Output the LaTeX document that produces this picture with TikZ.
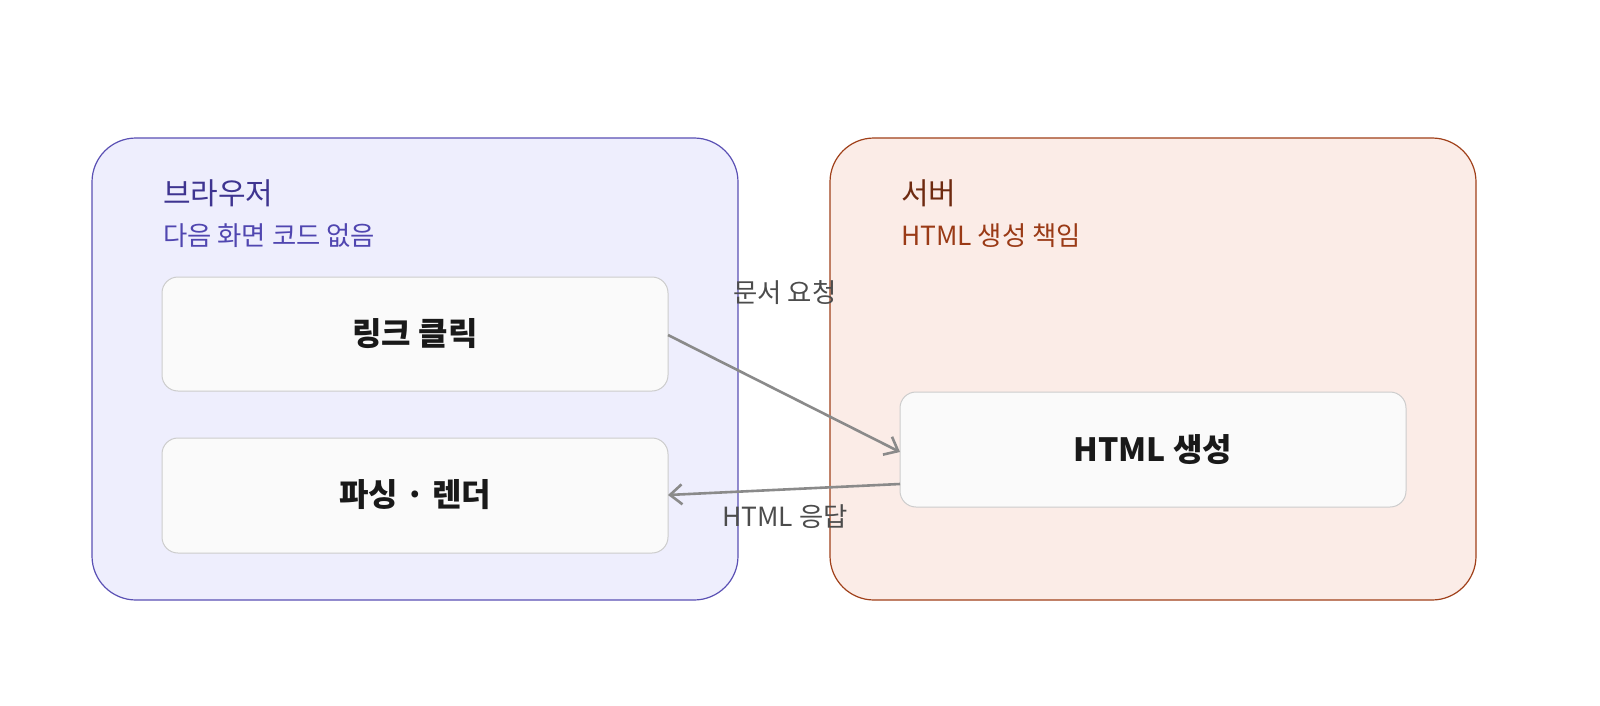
\documentclass[tikz,border=0pt]{standalone}
\usepackage{fontspec}
\setmainfont{Noto Sans CJK KR}
\usetikzlibrary{arrows.meta}
\definecolor{bfill}{HTML}{EEEEFD}
\definecolor{bline}{HTML}{5A50B4}
\definecolor{btext}{HTML}{3E3490}
\definecolor{bsub}{HTML}{5046B0}
\definecolor{sfill}{HTML}{FBECE7}
\definecolor{sline}{HTML}{A0401A}
\definecolor{stext}{HTML}{6E2A10}
\definecolor{ssub}{HTML}{9A3A16}
\definecolor{cfill}{HTML}{FAFAFA}
\definecolor{cline}{HTML}{CCCCCC}
\definecolor{arr}{HTML}{8A8A8A}
\begin{document}
\begin{tikzpicture}[x=0.5pt,y=-0.5pt,
  group/.style={rounded corners=22pt,line width=0.6pt},
  card/.style={draw=cline,fill=cfill,rounded corners=8pt,line width=0.5pt},
  cardtxt/.style={font=\fontsize{16}{19}\selectfont\bfseries,text=black!90},
  title/.style={anchor=west,font=\fontsize{15}{18}\selectfont},
  sub/.style={anchor=west,font=\fontsize{13.2}{16}\selectfont},
  lab/.style={font=\fontsize{13.2}{16}\selectfont,text=black!70},
  link/.style={draw=arr,line width=1.3pt,-{Straight Barb[length=6pt,width=10pt]}}]
\useasboundingbox (0,0) rectangle (1600,706);
\draw[group,draw=bline,fill=bfill] (92,138) rectangle (738,600);
\draw[group,draw=sline,fill=sfill] (830,138) rectangle (1476,600);
\node[title,text=btext] (bt) at (156,193) {브라우저};
\node[sub,text=bsub] (bs) at (156,236) {다음 화면 코드 없음};
\node[title,text=stext] (st) at (894,193) {서버};
\node[sub,text=ssub] (ss) at (894,236) {HTML 생성 책임};
\draw[card] (162,277) rectangle (668,391); \node[cardtxt] (a) at (415,334) {링크 클릭};
\coordinate (aR) at (668,335);
\draw[card] (162,438) rectangle (668,553); \node[cardtxt] (b) at (415,495) {파싱 · 렌더};
\coordinate (bR) at (668,495);
\draw[card] (900,392) rectangle (1406,507); \node[cardtxt] (c) at (1153,450) {HTML 생성};
\coordinate (cL1) at (900,452);
\coordinate (cL2) at (900,484);
\draw[link] (aR) -- (cL1);
\draw[link] (cL2) -- (bR);
\node[lab] (l1) at (785,293) {문서 요청};
\node[lab] (l2) at (785,517) {HTML 응답};
\end{tikzpicture}
\end{document}
